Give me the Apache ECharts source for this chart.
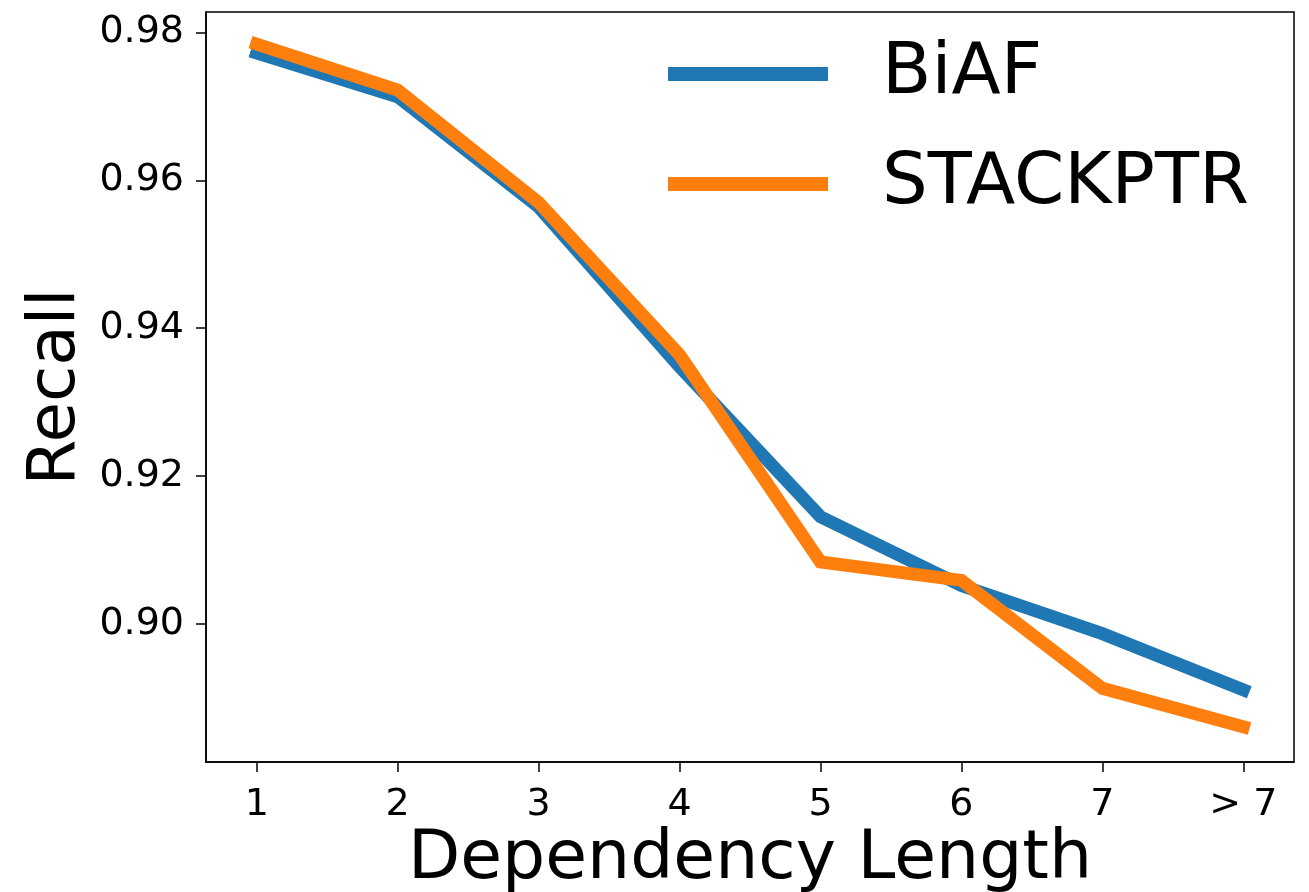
<!DOCTYPE html>
<html>
<head>
<meta charset="utf-8">
<script src="https://cdn.jsdelivr.net/npm/echarts@6/dist/echarts.min.js"></script>
<style>
    html, body { margin: 0; padding: 0; background: #fff; }
    #chart { width: 1309px; height: 892px; }
</style>
</head>
<body>
<div id="chart"></div>
<script>
// 数据
const categories = ['1', '2', '3', '4', '5', '6', '7', '> 7'];
const biafRecall = [0.9772, 0.9713, 0.9564, 0.9348, 0.9145, 0.9052, 0.8987, 0.8911];
const stackptrRecall = [0.9784, 0.9722, 0.9570, 0.9364, 0.9084, 0.9059, 0.8913, 0.8861];
const yTicks = [0.90, 0.92, 0.94, 0.96, 0.98];

const font = 'DejaVu Sans';

// x 用数值轴, 位置 1..8 对应各类别
function toPoints(values) {
    return values.map(function (v, i) { return [i + 1, v]; });
}
const xPositions = categories.map(function (c, i) { return i + 1; });

let myChart = echarts.init(document.getElementById('chart'));
let option = {
    animation: false,
    color: ['#1f77b4', '#ff7f0e'],
    grid: {
        left: 206,
        right: 15,
        top: 12,
        bottom: 130,
        // 不要自动收缩绘图区
        outerBoundsMode: 'none',
        show: true,
        borderColor: '#000',
        borderWidth: 1.5,
        backgroundColor: '#fff'
    },
    legend: {
        orient: 'vertical',
        left: 663,
        top: 33,
        icon: 'rect',
        itemWidth: 160,
        itemHeight: 14,
        itemGap: 38,
        textStyle: {
            fontFamily: font,
            fontSize: 72,
            lineHeight: 72,
            color: '#000',
            padding: [0, 0, 0, 49]
        },
        data: ['BiAF', 'STACKPTR']
    },
    xAxis: {
        type: 'value',
        min: 0.64,
        max: 8.36,
        name: 'Dependency Length',
        nameLocation: 'middle',
        nameGap: 64,
        nameMoveOverlap: false,
        nameTextStyle: { fontFamily: font, fontSize: 68, color: '#000' },
        axisLine: { show: true, lineStyle: { color: '#000', width: 1.5 } },
        axisTick: {
            show: true,
            length: 10,
            customValues: xPositions,
            lineStyle: { color: '#000', width: 1.5 }
        },
        axisLabel: {
            customValues: xPositions,
            margin: 24,
            fontFamily: font,
            fontSize: 38,
            color: '#000',
            formatter: function (v) { return categories[Math.round(v) - 1]; }
        },
        splitLine: { show: false }
    },
    yAxis: {
        type: 'value',
        min: 0.88134,
        max: 0.98275,
        name: 'Recall',
        nameLocation: 'middle',
        nameGap: 116,
        nameMoveOverlap: false,
        nameTextStyle: { fontFamily: font, fontSize: 66, color: '#000' },
        axisLine: { show: true, lineStyle: { color: '#000', width: 1.5 } },
        axisTick: {
            show: true,
            length: 10,
            customValues: yTicks,
            lineStyle: { color: '#000', width: 1.5 }
        },
        axisLabel: {
            customValues: yTicks,
            margin: 22,
            fontFamily: font,
            fontSize: 38,
            color: '#000',
            formatter: function (v) { return v.toFixed(2); }
        },
        splitLine: { show: false }
    },
    series: [{
        name: 'BiAF',
        type: 'line',
        data: toPoints(biafRecall),
        showSymbol: false,
        lineStyle: { width: 13, cap: 'square', join: 'miter' }
    }, {
        name: 'STACKPTR',
        type: 'line',
        data: toPoints(stackptrRecall),
        showSymbol: false,
        lineStyle: { width: 13, cap: 'square', join: 'miter' }
    }]
};
myChart.setOption(option);
</script>
</body>
</html>
